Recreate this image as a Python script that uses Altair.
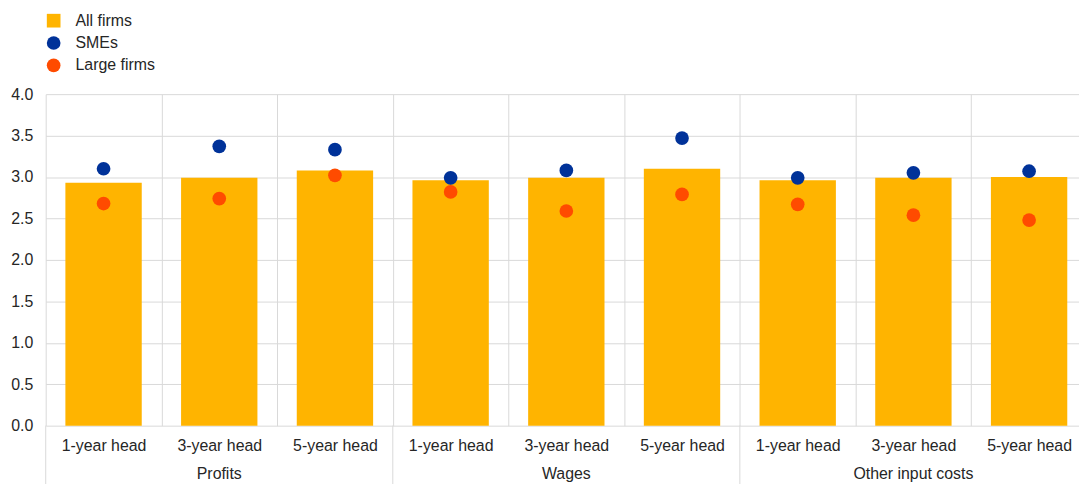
import altair as alt
import pandas as pd

groups = ["Profits", "Wages", "Other input costs"]
horizons = ["1-year head", "3-year head", "5-year head"]
all_firms = [2.93, 2.99, 3.08, 2.96, 2.99, 3.10, 2.96, 2.99, 3.00]
smes = [3.10, 3.37, 3.33, 2.99, 3.08, 3.47, 2.99, 3.05, 3.07]
large = [2.68, 2.74, 3.02, 2.82, 2.59, 2.79, 2.67, 2.54, 2.48]
series_names = ["All firms", "SMEs", "Large firms"]
series_colors = ["#FFB400", "#003299", "#FF4B00"]
series_shapes = ["square", "circle", "circle"]

keys = [f"{g}|{h}" for g in groups for h in horizons]
rows = []
for i, k in enumerate(keys):
    rows.append({"key": k, "series": "All firms", "value": all_firms[i]})
    rows.append({"key": k, "series": "SMEs", "value": smes[i]})
    rows.append({"key": k, "series": "Large firms", "value": large[i]})
df = pd.DataFrame(rows)

grp_df = pd.DataFrame({
    "group": groups,
    "mid": [f"{g}|{horizons[1]}" for g in groups],
    "first": [f"{g}|{horizons[0]}" for g in groups],
})

H = 334
W = 1040
FONT = "Liberation Sans"
GRID = "#d9d9d9"
TXT = "#262626"

xscale = alt.Scale(domain=keys, paddingInner=0, paddingOuter=0, range=[0, 1049])


def make_legend():
    return alt.Legend(title=None, orient="none", legendX=0, legendY=-82,
                      labelFontSize=16, symbolSize=190, rowPadding=6.5,
                      padding=0, labelOffset=14, labelColor=TXT, labelFont=FONT)


color = alt.Color("series:N", scale=alt.Scale(domain=series_names, range=series_colors),
                  legend=make_legend())
shape = alt.Shape("series:N", scale=alt.Scale(domain=series_names, range=series_shapes),
                  legend=make_legend())

x_enc = alt.X("key:N", scale=xscale, sort=keys, title=None,
              axis=alt.Axis(tickBand="extent", grid=True, gridColor=GRID, domain=False,
                            ticks=False, labelAngle=0, labelPadding=12, labelFontSize=16,
                            labelFont=FONT, labelColor=TXT,
                            labelExpr="split(datum.label, '|')[1]"))
y_enc = alt.Y("value:Q", scale=alt.Scale(domain=[0, 4], nice=False), title=None,
              axis=alt.Axis(values=[0, 0.5, 1, 1.5, 2, 2.5, 3, 3.5, 4], format=".1f",
                            grid=True, gridColor=GRID, domain=False, ticks=False,
                            labelPadding=13, labelFontSize=16, labelFont=FONT,
                            labelColor=TXT))

bars = alt.Chart(df).transform_filter(alt.datum.series == "All firms").mark_bar(
    width=alt.RelativeBandSize(0.66)
).encode(x=x_enc, y=y_enc, color=color)

points = alt.Chart(df).transform_filter(alt.datum.series != "All firms").mark_point(
    filled=True, size=190, opacity=1
).encode(x=alt.X("key:N", scale=xscale, sort=keys), y="value:Q", color=color, shape=shape)

seps = alt.Chart(grp_df).mark_rule(color=GRID, strokeWidth=1).encode(
    x=alt.X("first:N", scale=xscale, bandPosition=0),
    y=alt.value(H), y2=alt.value(H + 70))

glabels = alt.Chart(grp_df).mark_text(fontSize=16, font=FONT, color=TXT,
                                      baseline="middle").encode(
    x=alt.X("mid:N", scale=xscale), y=alt.value(H + 49), text="group:N")

chart = alt.layer(bars, points, seps, glabels).properties(
    width=W, height=H,
    autosize=alt.AutoSizeParams(type="none"),
    padding={"left": 38, "top": 85, "right": 1, "bottom": 57},
).configure_view(stroke=None)

chart.save("out.html", embed_options={"renderer": "svg", "actions": False})
